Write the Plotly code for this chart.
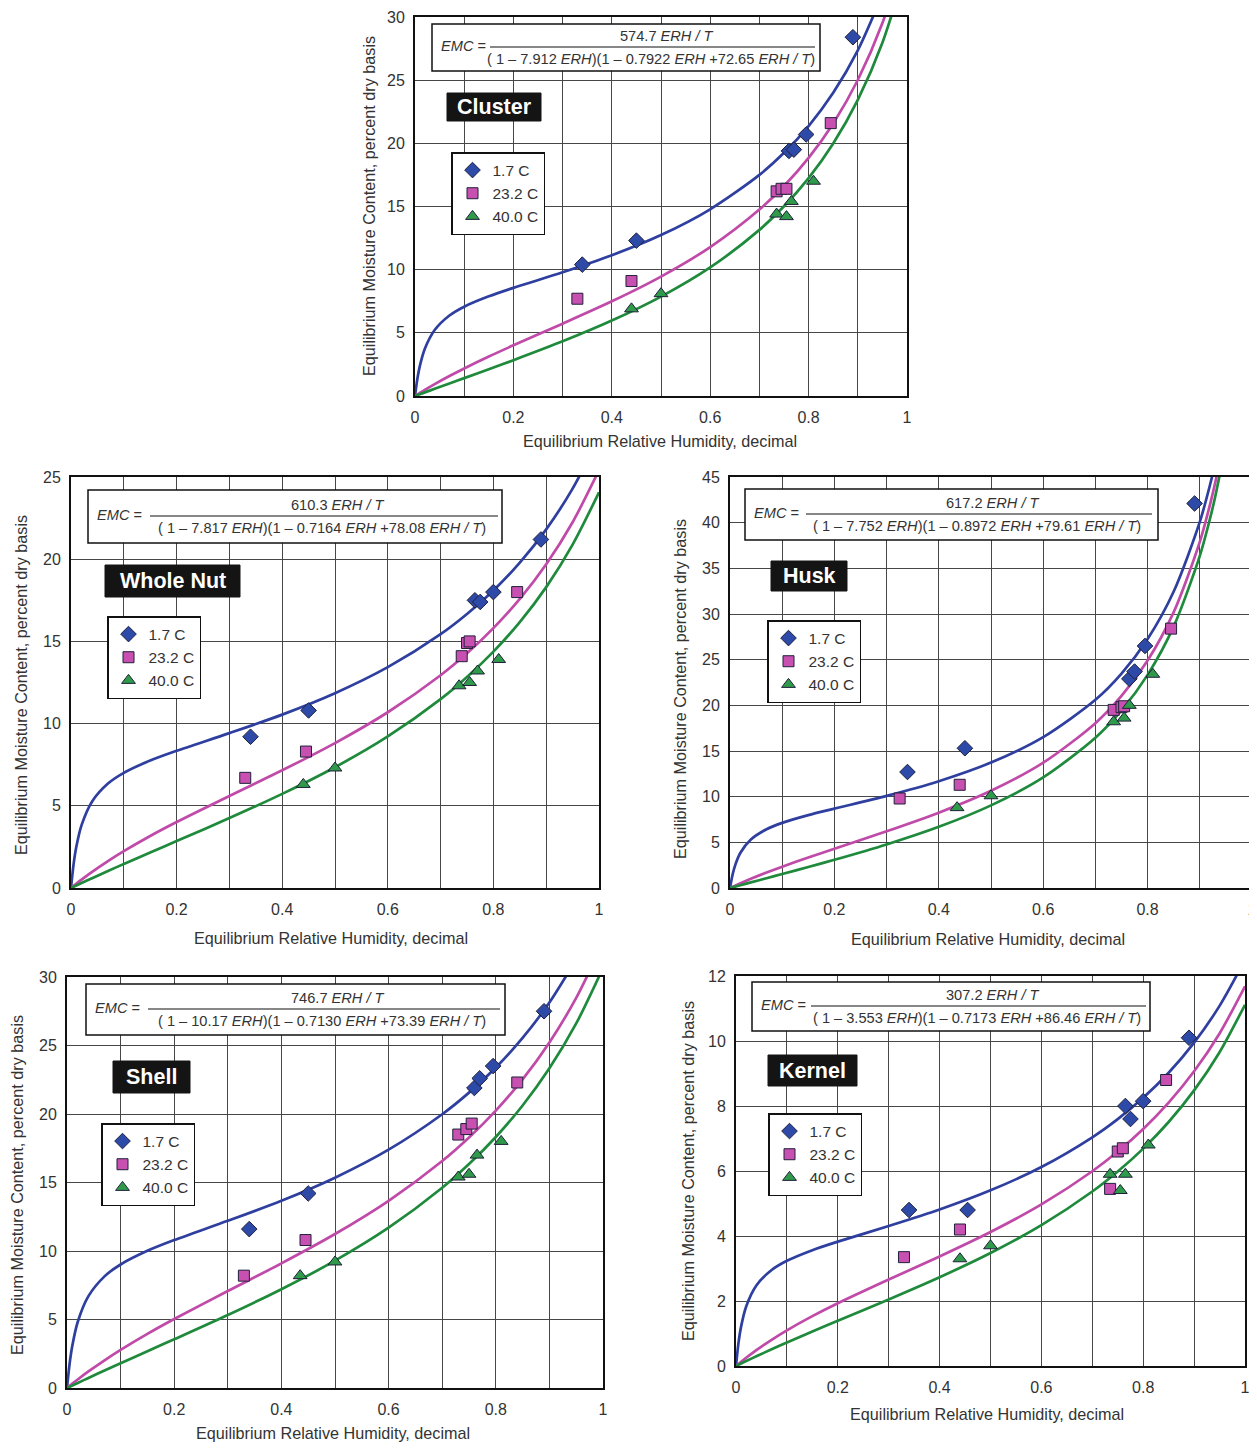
import plotly.graph_objects as go

# ---------------- data ----------------
SERIES = ["1.7 C", "23.2 C", "40.0 C"]
PANELS = ["Cluster", "Whole Nut", "Husk", "Shell", "Kernel"]

ERH_GRID = [0, 0.005, 0.01, 0.02, 0.04, 0.07, 0.1, 0.15, 0.2, 0.3, 0.4, 0.5, 0.6, 0.7, 0.75, 0.8, 0.85, 0.9, 0.95, 1.0]
ERH_GRID_HUSK = [0, 0.005, 0.01, 0.02, 0.04, 0.07, 0.1, 0.15, 0.2, 0.3, 0.4, 0.5, 0.6, 0.7, 0.75, 0.8, 0.85, 0.9, 0.92, 0.93, 0.95]

CL_CURVE_17 = [0, 1.40, 2.40, 3.74, 5.22, 6.37, 7.07, 7.89, 8.56, 9.79, 11.14, 12.74, 14.78, 17.50, 19.25, 21.37, 24.00, 27.36, 31.78]
CL_CURVE_232 = [0, 0.123, 0.244, 0.481, 0.936, 1.578, 2.180, 3.122, 4.011, 5.728, 7.493, 9.453, 11.786, 14.759, 16.619, 18.844, 21.572, 25.014, 29.519, 35.70]
CL_CURVE_40 = [0, 0.072, 0.143, 0.286, 0.570, 0.994, 1.415, 2.120, 2.834, 4.325, 5.968, 7.867, 10.177, 13.150, 15.017, 17.251, 19.989, 23.444, 27.963, 34.159]
WN_CURVE_17 = [0, 1.469, 2.490, 3.825, 5.264, 6.352, 7.004, 7.753, 8.345, 9.419, 10.546, 11.848, 13.431, 15.440, 16.669, 18.100, 19.790, 21.816, 24.293, 27.392]
WN_CURVE_232 = [0, 0.130, 0.258, 0.507, 0.980, 1.635, 2.240, 3.164, 4.014, 5.601, 7.161, 8.816, 10.691, 12.941, 14.276, 15.805, 17.584, 19.693, 22.248, 25.419]
WN_CURVE_40 = [0, 0.076, 0.152, 0.302, 0.599, 1.035, 1.463, 2.163, 2.856, 4.254, 5.725, 7.347, 9.220, 11.488, 12.836, 14.380, 16.175, 18.302, 20.889, 24.065]
HU_CURVE_17 = [0, 1.483, 2.510, 3.854, 5.309, 6.433, 7.131, 7.976, 8.687, 10.084, 11.693, 13.737, 16.521, 20.609, 23.483, 27.264, 32.467, 40.087, 44.231, 46.64, 52.33]
HU_CURVE_232 = [0, 0.132, 0.262, 0.516, 1.002, 1.688, 2.332, 3.341, 4.303, 6.204, 8.242, 10.640, 13.716, 18.048, 21.028, 24.907, 30.201, 37.906, 42.080, 44.504, 50.228]
HU_CURVE_40 = [0, 0.077, 0.154, 0.308, 0.613, 1.071, 1.528, 2.298, 3.086, 4.770, 6.698, 9.047, 12.110, 16.451, 19.441, 23.333, 28.641, 36.362, 40.544, 42.971, 48.701]
SH_CURVE_17 = [0, 1.818, 3.105, 4.819, 6.702, 8.147, 9.016, 10.012, 10.795, 12.202, 13.668, 15.353, 17.397, 19.981, 21.559, 23.392, 25.552, 28.137, 31.288]
SH_CURVE_232 = [0, 0.160, 0.316, 0.623, 1.207, 2.024, 2.784, 3.953, 5.038, 7.079, 9.096, 11.238, 13.662, 16.565, 18.283, 20.246, 22.526, 25.222, 28.476, 32.502]
SH_CURVE_40 = [0, 0.093, 0.186, 0.370, 0.736, 1.275, 1.807, 2.684, 3.557, 5.330, 7.211, 9.293, 11.700, 14.613, 16.343, 18.321, 20.618, 23.333, 26.608, 30.656]
KE_CURVE_17 = [0, 0.725, 1.212, 1.831, 2.476, 2.953, 3.237, 3.565, 3.826, 4.306, 4.814, 5.404, 6.123, 7.038, 7.598, 8.251, 9.022, 9.948, 11.081, 12.499]
KE_CURVE_232 = [0, 0.066, 0.130, 0.253, 0.487, 0.806, 1.097, 1.533, 1.930, 2.660, 3.371, 4.122, 4.971, 5.993, 6.599, 7.295, 8.105, 9.067, 10.233, 11.682]
KE_CURVE_40 = [0, 0.038, 0.076, 0.152, 0.299, 0.514, 0.723, 1.061, 1.391, 2.048, 2.731, 3.477, 4.334, 5.369, 5.985, 6.689, 7.508, 8.480, 9.655, 11.115]

CL_ERH_17 = [0.34, 0.45, 0.76, 0.77, 0.795, 0.89]
CL_EMC_17 = [10.4, 12.3, 19.4, 19.5, 20.7, 28.4]
CL_ERH_232 = [0.33, 0.44, 0.735, 0.745, 0.755, 0.845]
CL_EMC_232 = [7.7, 9.1, 16.2, 16.4, 16.4, 21.6]
CL_ERH_40 = [0.44, 0.50, 0.735, 0.755, 0.765, 0.81]
CL_EMC_40 = [6.9, 8.1, 14.4, 14.2, 15.4, 17.0]

WN_ERH_17 = [0.34, 0.45, 0.765, 0.775, 0.80, 0.89]
WN_EMC_17 = [9.2, 10.8, 17.5, 17.4, 18.0, 21.2]
WN_ERH_232 = [0.33, 0.445, 0.74, 0.75, 0.755, 0.845]
WN_EMC_232 = [6.7, 8.3, 14.1, 14.9, 15.0, 18.0]
WN_ERH_40 = [0.44, 0.50, 0.735, 0.755, 0.77, 0.81]
WN_EMC_40 = [6.3, 7.3, 12.3, 12.5, 13.2, 13.9]

HU_ERH_17 = [0.34, 0.45, 0.765, 0.775, 0.795, 0.89]
HU_EMC_17 = [12.7, 15.3, 22.9, 23.7, 26.5, 42.1]
HU_ERH_232 = [0.325, 0.44, 0.735, 0.75, 0.755, 0.845]
HU_EMC_232 = [9.8, 11.3, 19.5, 19.8, 19.9, 28.4]
HU_ERH_40 = [0.435, 0.50, 0.735, 0.755, 0.765, 0.81]
HU_EMC_40 = [8.8, 10.1, 18.2, 18.6, 20.0, 23.4]

SH_ERH_17 = [0.34, 0.45, 0.76, 0.77, 0.795, 0.89]
SH_EMC_17 = [11.6, 14.2, 21.9, 22.6, 23.5, 27.5]
SH_ERH_232 = [0.33, 0.445, 0.73, 0.745, 0.755, 0.84]
SH_EMC_232 = [8.2, 10.8, 18.5, 18.9, 19.3, 22.3]
SH_ERH_40 = [0.435, 0.50, 0.73, 0.75, 0.765, 0.81]
SH_EMC_40 = [8.2, 9.2, 15.4, 15.6, 17.0, 18.0]

KE_ERH_17 = [0.34, 0.455, 0.765, 0.775, 0.80, 0.89]
KE_EMC_17 = [4.8, 4.8, 8.0, 7.6, 8.15, 10.1]
KE_ERH_232 = [0.33, 0.44, 0.735, 0.75, 0.76, 0.845]
KE_EMC_232 = [3.35, 4.2, 5.45, 6.6, 6.7, 8.8]
KE_ERH_40 = [0.44, 0.50, 0.735, 0.755, 0.765, 0.81]
KE_EMC_40 = [3.3, 3.7, 5.9, 5.4, 5.9, 6.8]

EQ_TEXT = [
    ("574.7", "7.912", "0.7922", "72.65"),
    ("610.3", "7.817", "0.7164", "78.08"),
    ("617.2", "7.752", "0.8972", "79.61"),
    ("746.7", "10.17", "0.7130", "73.39"),
    ("307.2", "3.553", "0.7173", "86.46"),
]

Y_MAX = [30, 25, 45, 30, 12]
Y_DTICK = [5, 5, 5, 5, 2]

# ---------------- styling / layout ----------------
PAGE_W, PAGE_H = 1257, 1450
BODY_MARGIN = 8  # default browser body margin around the plot div
W, H = PAGE_W - BODY_MARGIN, PAGE_H - 2 * BODY_MARGIN
def fx(x): return (x - BODY_MARGIN) / W
def fy(y): return 1 - (y - BODY_MARGIN) / H

LINE_COLORS = ["#2f3f9f", "#c04aa8", "#1f8a3c"]
FILL_COLORS = ["#2e4aa8", "#c850b0", "#2e9a4a"]
SYMBOLS = ["diamond", "square", "triangle-up"]
MSIZE = [12, 11, 12]
FONT = "Liberation Sans, Arial, sans-serif"
TXT = "#333333"
GRID = "#474747"

LAYOUT_PX = [
    dict(plot=(415, 17, 907, 396), eqbox=(432, 24, 820, 71), eqline=(490, 815, 47), label=(447, 93, 541, 121),
         leg=(451, 152), xt=(660, 441), yt=(369, 206)),
    dict(plot=(71, 477, 599, 888), eqbox=(88, 490, 502, 543), eqline=(150, 498, 516), label=(105, 565, 240, 597),
         leg=(107, 616), xt=(331, 938), yt=(21, 685)),
    dict(plot=(730, 477, 1252, 888), eqbox=(745, 489, 1158, 540), eqline=(806, 1152, 514), label=(771, 561, 847, 591),
         leg=(767, 620), xt=(988, 939), yt=(680, 689)),
    dict(plot=(67, 977, 603, 1388), eqbox=(86, 984, 505, 1035), eqline=(148, 500, 1009), label=(113, 1061, 190, 1093),
         leg=(101, 1123), xt=(333, 1433), yt=(17, 1185)),
    dict(plot=(736, 976, 1245, 1366), eqbox=(752, 982, 1150, 1031), eqline=(811, 1146, 1006), label=(768, 1055, 857, 1086),
         leg=(768, 1113), xt=(987, 1414), yt=(688, 1171)),
]

CURVES = [
    (ERH_GRID, [CL_CURVE_17, CL_CURVE_232, CL_CURVE_40]),
    (ERH_GRID, [WN_CURVE_17, WN_CURVE_232, WN_CURVE_40]),
    (ERH_GRID_HUSK, [HU_CURVE_17, HU_CURVE_232, HU_CURVE_40]),
    (ERH_GRID, [SH_CURVE_17, SH_CURVE_232, SH_CURVE_40]),
    (ERH_GRID, [KE_CURVE_17, KE_CURVE_232, KE_CURVE_40]),
]
POINTS = [
    [(CL_ERH_17, CL_EMC_17), (CL_ERH_232, CL_EMC_232), (CL_ERH_40, CL_EMC_40)],
    [(WN_ERH_17, WN_EMC_17), (WN_ERH_232, WN_EMC_232), (WN_ERH_40, WN_EMC_40)],
    [(HU_ERH_17, HU_EMC_17), (HU_ERH_232, HU_EMC_232), (HU_ERH_40, HU_EMC_40)],
    [(SH_ERH_17, SH_EMC_17), (SH_ERH_232, SH_EMC_232), (SH_ERH_40, SH_EMC_40)],
    [(KE_ERH_17, KE_EMC_17), (KE_ERH_232, KE_EMC_232), (KE_ERH_40, KE_EMC_40)],
]

fig = go.Figure()
shapes, annotations = [], []
layout_extra = {}

for i, name in enumerate(PANELS):
    n = i + 1
    xa = "x" if n == 1 else f"x{n}"
    ya = "y" if n == 1 else f"y{n}"
    leg = "legend" if n == 1 else f"legend{n}"
    L = LAYOUT_PX[i]
    x0, y0, x1, y1 = L["plot"]

    grid, curves = CURVES[i]
    for k in range(3):
        yv = curves[k]
        fig.add_trace(go.Scatter(
            x=grid[:len(yv)], y=yv, mode="lines", xaxis=xa, yaxis=ya,
            line=dict(color=LINE_COLORS[k], width=2.7, shape="spline", smoothing=0.8),
            showlegend=False, hoverinfo="skip", cliponaxis=True))
    for k in range(3):
        px_, py_ = POINTS[i][k]
        fig.add_trace(go.Scatter(
            x=px_, y=py_, mode="markers", xaxis=xa, yaxis=ya, name=SERIES[k], legend=leg,
            marker=dict(symbol=SYMBOLS[k], size=MSIZE[k], color=FILL_COLORS[k],
                        line=dict(color="#20203a", width=1)),
            showlegend=True, cliponaxis=False))

    axcommon = dict(showgrid=True, gridcolor=GRID, gridwidth=1, showline=True, linecolor="#111111",
                    linewidth=2, mirror=True, zeroline=False, ticks="outside", tickcolor="rgba(0,0,0,0)",
                    tickfont=dict(family=FONT, size=16, color=TXT), fixedrange=True, automargin=False,
                    ticklabeloverflow="allow")
    layout_extra["xaxis" if n == 1 else f"xaxis{n}"] = dict(
        axcommon, domain=[fx(x0), min(1.0, fx(x1))], anchor=ya, range=[0, 1], dtick=0.2, tick0=0, ticklen=6,
        minor=dict(dtick=0.1, tick0=0, showgrid=True, gridcolor=GRID, gridwidth=1, ticks=""))
    layout_extra["yaxis" if n == 1 else f"yaxis{n}"] = dict(
        axcommon, domain=[max(0.0, fy(y1)), min(1.0, fy(y0))], anchor=xa, range=[0, Y_MAX[i]],
        dtick=Y_DTICK[i], tick0=0, ticklen=5)

    lx, ly = L["leg"]
    layout_extra[leg] = dict(x=fx(lx), y=fy(ly), xanchor="left", yanchor="top", bgcolor="white",
                             bordercolor="#111111", borderwidth=1.5, font=dict(family=FONT, size=15.5, color=TXT),
                             tracegroupgap=0, itemclick=False, itemdoubleclick=False)

    bx0, by0, bx1, by1 = L["eqbox"]
    shapes.append(dict(type="rect", xref="paper", yref="paper", x0=fx(bx0), y0=fy(by1), x1=fx(bx1), y1=fy(by0),
                       fillcolor="white", line=dict(color="#111111", width=1.5), layer="above"))
    lx0, lx1, lyy = L["eqline"]
    shapes.append(dict(type="line", xref="paper", yref="paper", x0=fx(lx0), y0=fy(lyy), x1=fx(lx1), y1=fy(lyy),
                       line=dict(color="#111111", width=1.2), layer="above"))
    a, b, c, d = EQ_TEXT[i]
    eqfont = dict(family=FONT, size=14.6, color=TXT)
    annotations.append(dict(xref="paper", yref="paper", x=fx(bx0 + 7), y=fy(lyy - 1), xanchor="left", yanchor="middle",
                            text="<i>EMC</i> =", showarrow=False, font=eqfont))
    mid = (lx0 + lx1) / 2
    annotations.append(dict(xref="paper", yref="paper", x=fx(mid + 14), y=fy(lyy - 11), xanchor="center",
                            yanchor="middle", text=f"{a} <i>ERH / T</i>", showarrow=False, font=eqfont))
    annotations.append(dict(xref="paper", yref="paper", x=fx(mid - 2), y=fy(lyy + 12), xanchor="center",
                            yanchor="middle",
                            text=f"( 1 – {b} <i>ERH</i>)(1 – {c} <i>ERH</i> +{d} <i>ERH / T</i>)",
                            showarrow=False, font=eqfont))

    qx0, qy0, qx1, qy1 = L["label"]
    shapes.append(dict(type="rect", xref="paper", yref="paper", x0=fx(qx0), y0=fy(qy1), x1=fx(qx1), y1=fy(qy0),
                       fillcolor="#141414", line=dict(color="#141414", width=1), layer="above"))
    annotations.append(dict(xref="paper", yref="paper", x=fx((qx0 + qx1) / 2), y=fy((qy0 + qy1) / 2),
                            xanchor="center", yanchor="middle", text=f"<b>{name}</b>", showarrow=False,
                            font=dict(family=FONT, size=21.5, color="white")))

    tx, ty = L["xt"]
    annotations.append(dict(xref="paper", yref="paper", x=fx(tx), y=fy(ty), xanchor="center", yanchor="middle",
                            text="Equilibrium Relative Humidity, decimal", showarrow=False,
                            font=dict(family=FONT, size=16.2, color=TXT)))
    vx, vy = L["yt"]
    annotations.append(dict(xref="paper", yref="paper", x=fx(vx), y=fy(vy), xanchor="center", yanchor="middle",
                            text="Equilibrium Moisture Content, percent dry basis", showarrow=False, textangle=-90,
                            font=dict(family=FONT, size=16.2, color=TXT)))

fig.update_layout(width=W, height=H, autosize=False, margin=dict(l=0, r=0, t=0, b=0, autoexpand=False),
                  paper_bgcolor="white", plot_bgcolor="white", shapes=shapes, annotations=annotations,
                  font=dict(family=FONT, color=TXT), **layout_extra)

fig.write_html("out.html", config={"displayModeBar": False, "responsive": False})
